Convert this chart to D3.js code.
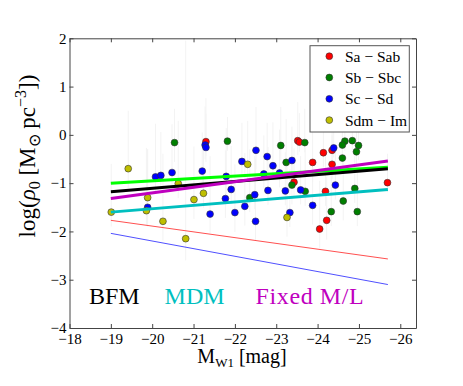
<!DOCTYPE html>
<html><head><meta charset="utf-8">
<script src="https://cdn.jsdelivr.net/npm/d3@7"></script>
<style>body{margin:0;background:#fff}svg{display:block}</style>
</head><body>
<svg id="c" width="463" height="386"></svg>
<script>
// [M_W1, log rho0, err up, err down]
const saSab = [[-21.30,-0.14,0.9,0.3],[-23.52,-0.12,0.8,0.3],[-23.56,-0.15,0.6,0.2],[-24.35,-0.32,0.7,0.3],[-24.14,-0.37,0.8,0.3],[-23.88,-0.57,0.9,0.4],[-24.35,-0.61,0.6,0.3],[-23.43,-0.98,0.7,0.3],[-24.19,-1.17,0.8,0.3],[-25.69,-0.99,0.6,0.2],[-24.22,-1.77,0.9,0.4],[-24.05,-1.95,1.0,0.4]];
const sbSbc = [[-20.54,-0.16,0.7,0.4],[-21.82,-0.13,0.5,0.2],[-23.11,-0.22,0.8,0.3],[-23.24,-0.57,0.9,0.3],[-23.69,-0.16,0.7,0.2],[-24.66,-0.13,0.6,0.2],[-24.60,-0.21,0.8,0.3],[-24.84,-0.12,0.5,0.2],[-24.99,-0.22,0.7,0.3],[-24.94,-0.35,0.6,0.3],[-24.60,-0.48,0.9,0.3],[-23.38,-1.04,0.8,0.4],[-22.36,-1.30,1.0,0.3],[-23.70,-1.17,0.9,0.3],[-24.90,-1.11,0.7,0.3],[-24.62,-1.37,0.8,0.4],[-24.33,-1.59,0.9,0.3],[-24.96,-1.59,0.8,0.3]];
const scSd = [[-21.28,-0.21,0.8,0.3],[-21.30,-0.26,0.7,0.3],[-20.08,-0.87,1.1,0.3],[-20.21,-0.84,0.9,0.3],[-20.48,-0.78,1.0,0.4],[-21.21,-0.75,0.8,0.3],[-22.51,-0.32,0.9,0.4],[-22.78,-0.45,0.7,0.3],[-22.17,-0.55,0.8,0.3],[-22.92,-0.64,0.9,0.3],[-23.38,-0.53,0.7,0.3],[-24.39,-0.27,0.6,0.2],[-21.79,-0.86,1.0,0.4],[-22.70,-0.81,0.8,0.3],[-23.08,-0.79,0.9,0.3],[-19.89,-1.50,1.2,0.4],[-21.91,-1.13,0.9,0.3],[-21.77,-1.32,1.0,0.4],[-22.48,-1.24,0.8,0.3],[-22.80,-1.15,0.9,0.3],[-23.22,-1.16,0.8,0.3],[-23.59,-1.14,0.7,0.3],[-24.43,-1.04,0.8,0.3],[-22.24,-1.48,1.1,0.4],[-21.40,-1.64,1.2,0.4],[-22.00,-1.61,1.0,0.4],[-23.33,-1.61,0.9,0.3],[-23.88,-1.46,0.8,0.4],[-22.50,-1.79,1.3,0.4]];
const sdmIm = [[-19.42,-0.70,1.2,0.4],[-20.63,-1.01,1.3,0.3],[-19.89,-1.30,1.0,0.4],[-21.01,-1.34,1.1,0.4],[-19.86,-1.57,1.3,0.3],[-19.01,-1.60,1.0,0.3],[-20.26,-1.79,1.4,0.4],[-20.81,-2.15,4.1,0.45],[-22.31,-0.61,0.9,0.3],[-21.24,-1.21,1.0,0.3],[-23.26,-1.71,1.1,0.4]];

const categories = ["Sa − Sab","Sb − Sbc","Sc − Sd","Sdm − Im"];
const catColors = ["#ff0000","#007f00","#0000ff","#bfbf00"];
const seriesData = [saSab, sbSbc, scSd, sdmIm];

// fit lines: [x0, y0, x1, y1]
const lineNames = ["green","black","magenta","cyan","red","blue"];
const fitLines = [
  [-19.0,-1.00,-25.7,-0.67],
  [-19.0,-1.18,-25.7,-0.70],
  [-19.0,-1.32,-25.7,-0.54],
  [-19.0,-1.60,-25.7,-1.13],
  [-19.0,-1.77,-25.7,-2.57],
  [-19.0,-2.04,-25.7,-3.10]
];
const lineColors = ["#00ff00","#000000","#bf00bf","#00bfbf","#ff5050","#5050ff"];
const lineWidths = [3,3,3,3,1,1];

const xTicks = [-18,-19,-20,-21,-22,-23,-24,-25,-26];
const yTicks = [-4,-3,-2,-1,0,1,2];
const annotations = ["BFM","MDM","Fixed M/L"];
const annotColors = ["#000000","#00bfbf","#bf00bf"];

const L=69.5, R=416, T=38.3, B=328;
const svg = d3.select("#c");
const x = d3.scaleLinear().domain([-18,-26.38]).range([L,R]);
const y = d3.scaleLinear().domain([-4,2]).range([B,T]);
const fmt = d => (d<0?"−":"")+Math.abs(d);

// error bars
const g = svg.append("g");
seriesData.forEach(s=>{
  g.selectAll(null).data(s).enter().append("line")
    .attr("x1",d=>x(d[0])).attr("x2",d=>x(d[0]))
    .attr("y1",d=>y(Math.min(d[1]+d[2],2))).attr("y2",d=>y(d[1]-d[3]))
    .attr("stroke","#f3f3f3").attr("stroke-width",1);
});
// points
seriesData.forEach((s,i)=>{
  g.selectAll(null).data(s).enter().append("circle")
    .attr("cx",d=>x(d[0])).attr("cy",d=>y(d[1])).attr("r",3.4)
    .attr("fill",catColors[i]).attr("stroke","#333").attr("stroke-width",0.6);
});
// lines
fitLines.forEach((l,i)=>{
  g.append("line").attr("x1",x(l[0])).attr("y1",y(l[1])).attr("x2",x(l[2])).attr("y2",y(l[3]))
   .attr("stroke",lineColors[i]).attr("stroke-width",lineWidths[i]);
});

// annotations
const annX = [-18.47,-20.3,-22.5];
const annSpacing = [0,0,0.6];
annotations.forEach((t,i)=>{
  svg.append("text").attr("x",x(annX[i])).attr("y",y(-3.5)).text(t)
    .attr("fill",annotColors[i]).attr("font-size",24).attr("letter-spacing",annSpacing[i]);
});

// axes
const axStyle = sel => {
  sel.selectAll("path").attr("stroke","#444").attr("stroke-width",1);
  sel.selectAll("line").attr("stroke","#444");
  sel.selectAll("text").attr("font-size",15).attr("fill","#000");
};
svg.append("g").attr("transform",`translate(0,${B})`)
  .call(d3.axisBottom(x).tickValues(xTicks).tickFormat(fmt).tickSize(-4).tickSizeOuter(0).tickPadding(5)).call(axStyle);
svg.append("g").attr("transform",`translate(0,${T})`)
  .call(d3.axisTop(x).tickValues(xTicks).tickFormat("").tickSize(-4).tickSizeOuter(0)).call(axStyle);
svg.append("g").attr("transform",`translate(${L},0)`)
  .call(d3.axisLeft(y).tickValues(yTicks).tickFormat(fmt).tickSize(-4).tickSizeOuter(0).tickPadding(3)).call(axStyle);
svg.append("g").attr("transform",`translate(${R},0)`)
  .call(d3.axisRight(y).tickValues(yTicks).tickFormat("").tickSize(-4).tickSizeOuter(0)).call(axStyle);

// legend
const lg = svg.append("g");
lg.append("rect").attr("x",310).attr("y",45.7).attr("width",99.3).attr("height",86.3)
  .attr("fill","#fff").attr("stroke","#555").attr("stroke-width",1);
categories.forEach((c,i)=>{
  const yy = 56.2 + i*21.3;
  lg.append("circle").attr("cx",329.3).attr("cy",yy).attr("r",3.4)
    .attr("fill",catColors[i]).attr("stroke","#333").attr("stroke-width",0.6);
  lg.append("text").attr("x",345).attr("y",yy).attr("dy","0.35em").text(c)
    .attr("font-size",15.5);
});

// axis labels
const xl = svg.append("text").attr("x",242).attr("y",363).attr("text-anchor","middle")
  .attr("font-size",20);
xl.append("tspan").text("M");
xl.append("tspan").attr("font-size",13).attr("dy",4).text("W1");
xl.append("tspan").attr("dy",-4).text(" [mag]");

const yl = svg.append("text").attr("transform","translate(35,156) rotate(-90)").attr("text-anchor","middle")
  .attr("font-size",23);
yl.append("tspan").text("log(");
yl.append("tspan").attr("font-style","italic").text("ρ");
yl.append("tspan").attr("font-size",16).attr("dy",5).text("0");
yl.append("tspan").attr("dy",-5).text(" [M");
yl.append("tspan").attr("font-size",16).attr("dy",5).text("⊙");
yl.append("tspan").attr("dy",-5).text(" pc");
yl.append("tspan").attr("font-size",16).attr("dy",-9).text("−3");
yl.append("tspan").attr("dy",9).text("])");

svg.selectAll("text").style("font-family",'"Liberation Serif", serif');
</script>
</body></html>
